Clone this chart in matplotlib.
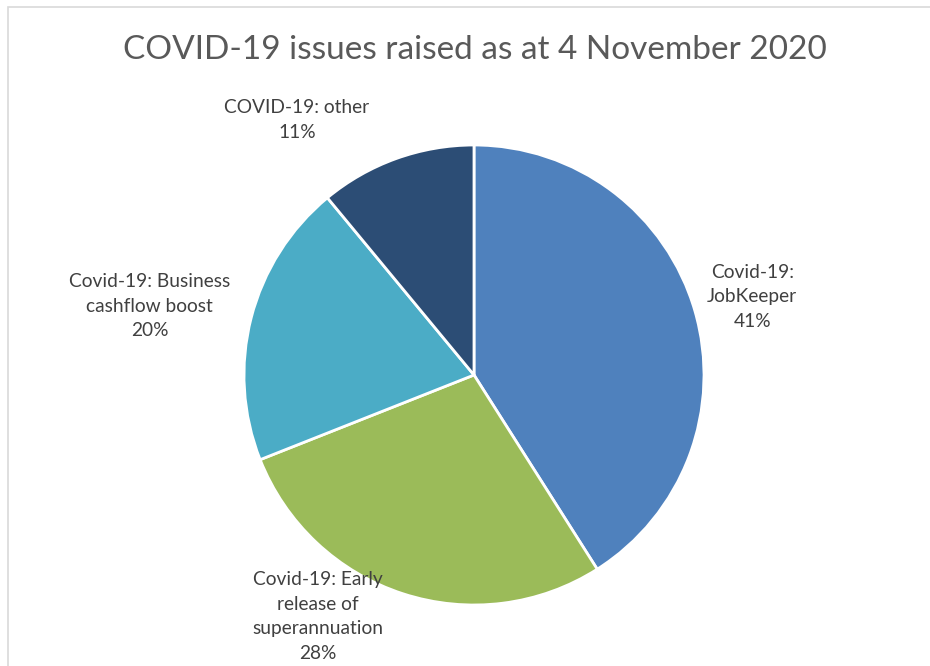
import matplotlib.pyplot as plt
from matplotlib.patches import Rectangle

plt.rcParams['font.family'] = ['Lato', 'DejaVu Sans']

categories = ["Covid-19:\nJobKeeper", "Covid-19: Early\nrelease of\nsuperannuation",
              "Covid-19: Business\ncashflow boost", "COVID-19: other"]
shares = [41, 28, 20, 11]
colors = ['#4F81BD', '#9BBB59', '#4BACC6', '#2C4D75']
# label centres, in pie-radius units
label_pos = [(1.21, 0.34), (-0.68, -1.05), (-1.41, 0.30), (-0.77, 1.11)]

fig = plt.figure(figsize=(9.3, 6.66), dpi=100)
fig.patches.append(Rectangle((8 / 930, -0.1), 1.2, 1 - 7 / 666 + 0.1, transform=fig.transFigure,
                             fill=False, edgecolor='#D9D9D9', linewidth=1.2))

ax = fig.add_axes([244 / 930, 61 / 666, 460 / 930, 460 / 666])
ax.pie(shares, colors=colors, startangle=90, counterclock=False,
       wedgeprops=dict(edgecolor='white', linewidth=2))
ax.set_xlim(-1, 1)
ax.set_ylim(-1, 1)
ax.set_aspect('equal')
ax.axis('off')

for cat, val, (x, y) in zip(categories, shares, label_pos):
    ax.text(x, y, cat + "\n" + str(val) + "%", ha='center', va='center',
            fontsize=13.8, color='#404040', linespacing=1.55, clip_on=False)

fig.text(475 / 930, 1 - 50 / 666, "COVID-19 issues raised as at 4 November 2020",
         ha='center', va='center', fontsize=24, color='#595959')

plt.savefig("out.png", dpi=100)
